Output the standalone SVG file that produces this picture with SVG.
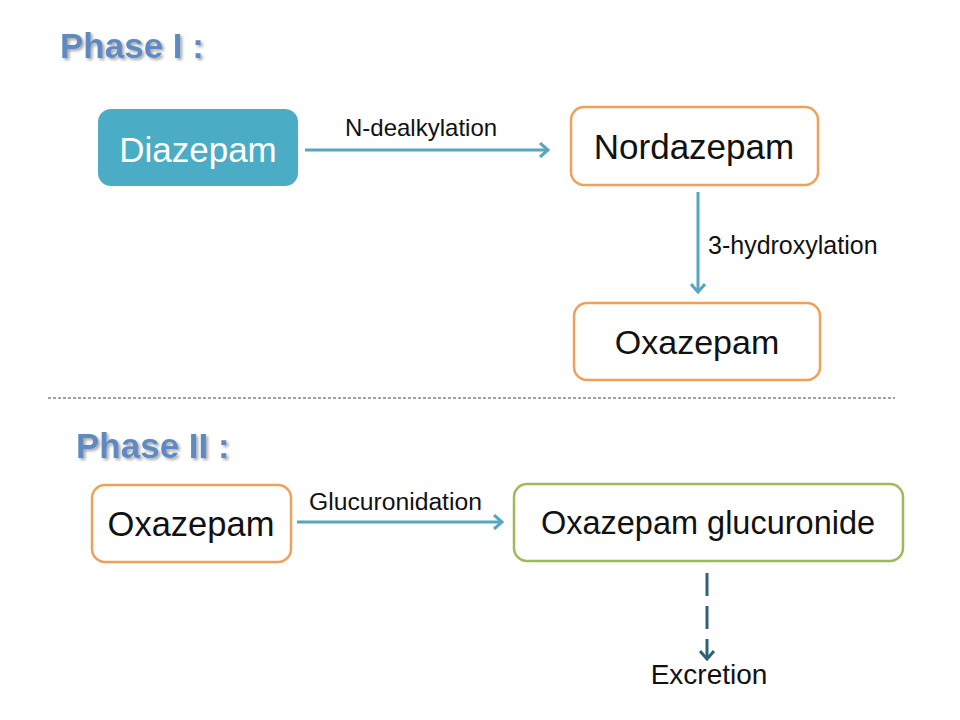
<svg xmlns="http://www.w3.org/2000/svg" width="960" height="720" viewBox="0 0 960 720">
<defs>
<style>
.title{font-family:"Liberation Sans",Arial,sans-serif;font-weight:bold;font-size:35px;fill:#5F8AC0}
.node{font-family:"Liberation Sans",Arial,sans-serif;fill:#111}
.lbl{font-family:"Liberation Sans",Arial,sans-serif;font-size:24px;fill:#111}
.box-o{fill:#fff;stroke:#F0A05A;stroke-width:2.5}
.box-g{fill:#fff;stroke:#9BBB59;stroke-width:2.5}
.conn{fill:none;stroke:#55A6C0;stroke-width:3}
</style>
<filter id="sh" x="-10%" y="-20%" width="130%" height="150%">
<feDropShadow dx="2" dy="2" stdDeviation="1.5" flood-color="#000" flood-opacity="0.35"/>
</filter>
<marker id="ah" viewBox="0 0 12 16" refX="10" refY="8" markerWidth="12" markerHeight="16" markerUnits="userSpaceOnUse" orient="auto">
<path d="M2,1 L10,8 L2,15" fill="none" stroke="#55A6C0" stroke-width="3"/>
</marker>
<marker id="ahd" viewBox="0 0 12 16" refX="10" refY="8" markerWidth="12" markerHeight="16" markerUnits="userSpaceOnUse" orient="auto">
<path d="M2,1 L10,8 L2,15" fill="none" stroke="#2E6475" stroke-width="3"/>
</marker>
</defs>
<rect width="960" height="720" fill="#fff"/>
<text class="title" x="60" y="58" filter="url(#sh)">Phase I :</text>
<text class="title" x="76" y="458" filter="url(#sh)">Phase II :</text>
<line x1="48" y1="398" x2="895" y2="398" stroke="#444" stroke-width="1" stroke-dasharray="3 2"/>
<g id="diazepam">
<rect x="98" y="109" width="200" height="77" rx="13" fill="#4BACC6"/>
<text class="node" x="198" y="162" font-size="35" text-anchor="middle" style="fill:#fff">Diazepam</text>
</g>
<g id="nordazepam">
<rect class="box-o" x="571" y="107" width="247" height="78" rx="13"/>
<text class="node" x="694" y="159" font-size="35" text-anchor="middle">Nordazepam</text>
</g>
<g id="oxazepam1">
<rect class="box-o" x="574" y="303" width="246" height="77" rx="13"/>
<text class="node" x="697" y="354" font-size="34" text-anchor="middle">Oxazepam</text>
</g>
<g id="oxazepam2">
<rect class="box-o" x="92" y="485" width="199" height="77" rx="13"/>
<text class="node" x="191" y="536" font-size="34.5" text-anchor="middle">Oxazepam</text>
</g>
<g id="glucuronide">
<rect class="box-g" x="514" y="484" width="389" height="77" rx="13"/>
<text class="node" x="708" y="534" font-size="32.5" text-anchor="middle">Oxazepam glucuronide</text>
</g>
<g id="excretion">
<text class="node" x="709" y="684" font-size="28" text-anchor="middle">Excretion</text>
</g>
<g id="connectors">
<line class="conn" x1="305" y1="150" x2="548" y2="150" marker-end="url(#ah)"/>
<text class="lbl" x="345" y="136">N-dealkylation</text>
<line class="conn" x1="698" y1="192" x2="698" y2="292" marker-end="url(#ah)"/>
<text class="lbl" x="708" y="254" style="font-size:25px">3-hydroxylation</text>
<line class="conn" x1="297" y1="522" x2="502" y2="522" marker-end="url(#ah)"/>
<text class="lbl" x="309" y="510" style="font-size:24.7px">Glucuronidation</text>
<line x1="707" y1="573" x2="707" y2="659" fill="none" stroke="#2E6475" stroke-width="3" stroke-dasharray="23 10" marker-end="url(#ahd)"/>
</g>
</svg>
